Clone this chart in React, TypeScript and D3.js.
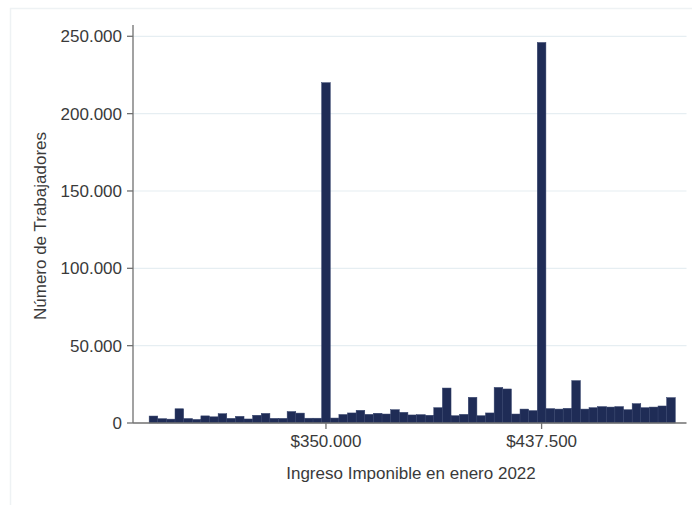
import React from "react";
import * as d3 from "d3";

const binCenters = [
  280000, 283500, 287000, 290500, 294000, 297500, 301000, 304500, 308000, 311500,
  315000, 318500, 322000, 325500, 329000, 332500, 336000, 339500, 343000, 346500,
  350000, 353500, 357000, 360500, 364000, 367500, 371000, 374500, 378000, 381500,
  385000, 388500, 392000, 395500, 399000, 402500, 406000, 409500, 413000, 416500,
  420000, 423500, 427000, 430500, 434000, 437500, 441000, 444500, 448000, 451500,
  455000, 458500, 462000, 465500, 469000, 472500, 476000, 479500, 483000, 486500,
  490000,
];
const binWidth = 3500;

const workers = [
  4500, 2800, 2500, 9200, 2900, 2300, 4600, 4000, 6000, 3000,
  4300, 2600, 5000, 6200, 3000, 3000, 7400, 6400, 3100, 3100,
  220000, 3200, 5500, 6500, 8200, 5600, 6300, 5800, 8600, 6900,
  5200, 5400, 5000, 9900, 22600, 4700, 5600, 16600, 4700, 6500,
  23000, 22000, 5800, 9000, 8000, 246000, 9300, 9000, 9500, 27400,
  9000, 9900, 10600, 10300, 10600, 8600, 12500, 9900, 10300, 11000,
  16400,
];

const yTicks = [0, 50000, 100000, 150000, 200000, 250000];
const yTickLabels = ["0", "50.000", "100.000", "150.000", "200.000", "250.000"];
const xTicks = [350000, 437500];
const xTickLabels = ["$350.000", "$437.500"];

const xTitle = "Ingreso Imponible en enero 2022";
const yTitle = "Número de Trabajadores";

export default function App() {
  const W = 692;
  const H = 505;
  const left = 133;
  const right = 686.5;
  const top = 25;
  const bottom = 423;

  const x = d3.scaleLinear().domain([271700, 496300]).range([left, right]);
  const y = d3.scaleLinear().domain([0, 257300]).range([bottom, top]);

  const font = "'Liberation Sans', Arial, sans-serif";
  const barColor = "#1f2c56";
  const textColor = "#3a3a3a";

  return (
    <svg
      width={W}
      height={H}
      style={{ position: "absolute", left: 0, top: 0, background: "#fff" }}
    >
      <rect x={0} y={0} width={W} height={H} fill="#fff" />
      <rect x={10.5} y={8.5} width={W} height={H} fill="none" stroke="#eef2f4" strokeWidth={1.5} />

      {/* gridlines */}
      {yTicks.filter((t) => t > 0).map((t) => (
        <line
          key={"g" + t}
          x1={left}
          x2={right}
          y1={y(t)}
          y2={y(t)}
          stroke="#e6eef2"
          strokeWidth={1.2}
        />
      ))}

      {/* bars */}
      {binCenters.map((c, i) => (
        <rect
          key={"b" + i}
          x={x(c - binWidth / 2)}
          y={y(workers[i])}
          width={x(c + binWidth / 2) - x(c - binWidth / 2)}
          height={y(0) - y(workers[i])}
          fill={barColor}
          stroke="#33406a"
          strokeWidth={0.5}
        />
      ))}

      {/* axes */}
      <line x1={left} x2={left} y1={top} y2={bottom} stroke="#707070" strokeWidth={1.3} />
      <line x1={left} x2={right} y1={bottom} y2={bottom} stroke="#707070" strokeWidth={1.3} />

      {yTicks.map((t, i) => (
        <g key={"yt" + t}>
          <line x1={left - 6} x2={left} y1={y(t)} y2={y(t)} stroke="#707070" strokeWidth={1.3} />
          <text
            x={left - 11}
            y={y(t)}
            dy="0.35em"
            textAnchor="end"
            fontFamily={font}
            fontSize={17}
            fill={textColor}
          >
            {yTickLabels[i]}
          </text>
        </g>
      ))}

      {xTicks.map((t, i) => (
        <g key={"xt" + t}>
          <line x1={x(t)} x2={x(t)} y1={bottom} y2={bottom + 6} stroke="#707070" strokeWidth={1.3} />
          <text
            x={x(t)}
            y={bottom + 24}
            textAnchor="middle"
            fontFamily={font}
            fontSize={17}
            fill={textColor}
          >
            {xTickLabels[i]}
          </text>
        </g>
      ))}

      <text
        x={411}
        y={479}
        textAnchor="middle"
        fontFamily={font}
        fontSize={17}
        fill={textColor}
      >
        {xTitle}
      </text>

      <text
        transform={`translate(46, 226) rotate(-90)`}
        textAnchor="middle"
        fontFamily={font}
        fontSize={17}
        fill={textColor}
      >
        {yTitle}
      </text>
    </svg>
  );
}
